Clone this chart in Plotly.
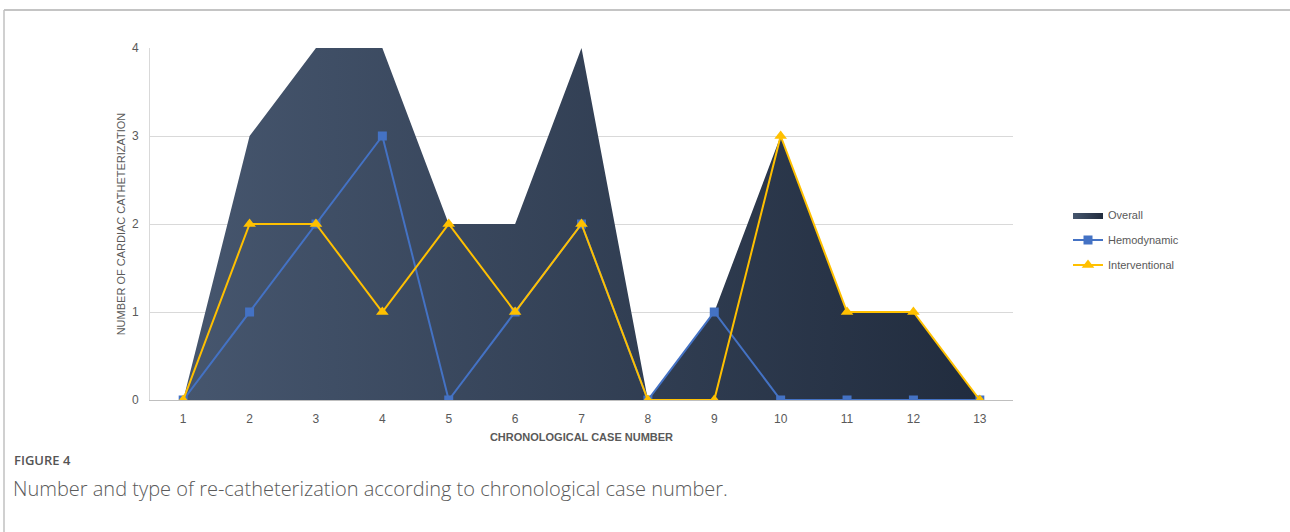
import plotly.graph_objects as go

# Re-catheterizations per chronological case
cases = list(range(1, 14))
overall = [0, 3, 4, 4, 2, 2, 4, 0, 1, 3, 1, 1, 0]
hemodynamic = [0, 1, 2, 3, 0, 1, 2, 0, 1, 0, 0, 0, 0]
interventional = [0, 2, 2, 1, 2, 1, 2, 0, 0, 3, 1, 1, 0]

W, H = 1290, 532
ML, MR, MT, MB = 150, 277, 48, 132
PW, PH = W - ML - MR, H - MT - MB


def px(x):
    return (x - ML) / PW


def py(y):
    return (H - MB - y) / PH


GRAY = "#595959"
FONT = "Liberation Sans, Arial, sans-serif"

fig = go.Figure()
fig.add_trace(go.Scatter(
    x=cases, y=overall, name="Overall", mode="lines",
    line=dict(width=0, color="#2e3b50"),
    fill="tozeroy",
    fillcolor="#2e3b50",
    fillgradient=dict(type="horizontal",
                      colorscale=[[0, "#46566e"], [1, "#212c3e"]]),
    legend="legend", showlegend=True,
))
fig.add_trace(go.Scatter(
    x=cases, y=hemodynamic, name="Hemodynamic", mode="lines+markers",
    line=dict(width=2, color="#4472c4"),
    marker=dict(symbol="square", size=9, color="#4472c4"),
    legend="legend2", showlegend=True,
))
fig.add_trace(go.Scatter(
    x=cases, y=interventional, name="Interventional", mode="lines+markers",
    line=dict(width=2, color="#ffc000"),
    marker=dict(symbol="triangle-up", size=11, color="#ffc000"),
    legend="legend3", showlegend=True,
))

legend_common = dict(font=dict(family=FONT, size=11, color=GRAY),
                     bgcolor="rgba(0,0,0,0)", xanchor="left", yanchor="middle",
                     itemwidth=30, tracegroupgap=0, visible=True)

fig.update_layout(
    width=W, height=H,
    margin=dict(l=ML, r=MR, t=MT, b=MB),
    paper_bgcolor="white", plot_bgcolor="white",
    showlegend=True,
    legend=dict(x=px(1068), y=py(215), **legend_common),
    legend2=dict(x=px(1068), y=py(240), **legend_common),
    legend3=dict(x=px(1068), y=py(265), **legend_common),
    xaxis=dict(
        range=[0.5, 13.5], tickvals=cases, ticktext=[str(c) for c in cases],
        showgrid=False, zeroline=False,
        showline=True, linecolor="#bfbfbf", linewidth=1,
        tickfont=dict(family=FONT, size=12, color=GRAY),
        ticklabelstandoff=8,
        title=dict(text="<b>CHRONOLOGICAL CASE NUMBER</b>",
                   font=dict(family=FONT, size=11, color=GRAY), standoff=7),
    ),
    yaxis=dict(
        range=[0, 4], tickvals=[0, 1, 2, 3, 4],
        showgrid=True, gridcolor="#d9d9d9", gridwidth=1,
        zeroline=False, showline=True, linecolor="#d9d9d9", linewidth=1,
        tickfont=dict(family=FONT, size=12, color=GRAY),
        ticklabelstandoff=8,
        title=dict(text="NUMBER OF CARDIAC CATHETERIZATION",
                   font=dict(family=FONT, size=11, color=GRAY), standoff=4),
    ),
    shapes=[
        dict(type="line", xref="paper", yref="paper",
             x0=px(4), x1=px(W + 5), y0=py(10), y1=py(10),
             line=dict(color="#b0b0b0", width=1.5)),
        dict(type="line", xref="paper", yref="paper",
             x0=px(4), x1=px(4), y0=py(10), y1=py(H + 5),
             line=dict(color="#c0c0c0", width=1.5)),
    ],
    annotations=[
        dict(text="FIGURE 4", xref="paper", yref="paper",
             x=px(12), y=py(460), xanchor="left", yanchor="middle",
             showarrow=False,
             font=dict(family="Open Sans, sans-serif", size=13, weight=600,
                       color="#555555")),
        dict(text="Number and type of re-catheterization according to chronological case number.",
             xref="paper", yref="paper",
             x=px(11), y=py(488), xanchor="left", yanchor="middle",
             showarrow=False,
             font=dict(family="Open Sans, sans-serif", size=20, weight=300,
                       color="#5a5a5a")),
    ],
)

fig.write_html("out.html")
